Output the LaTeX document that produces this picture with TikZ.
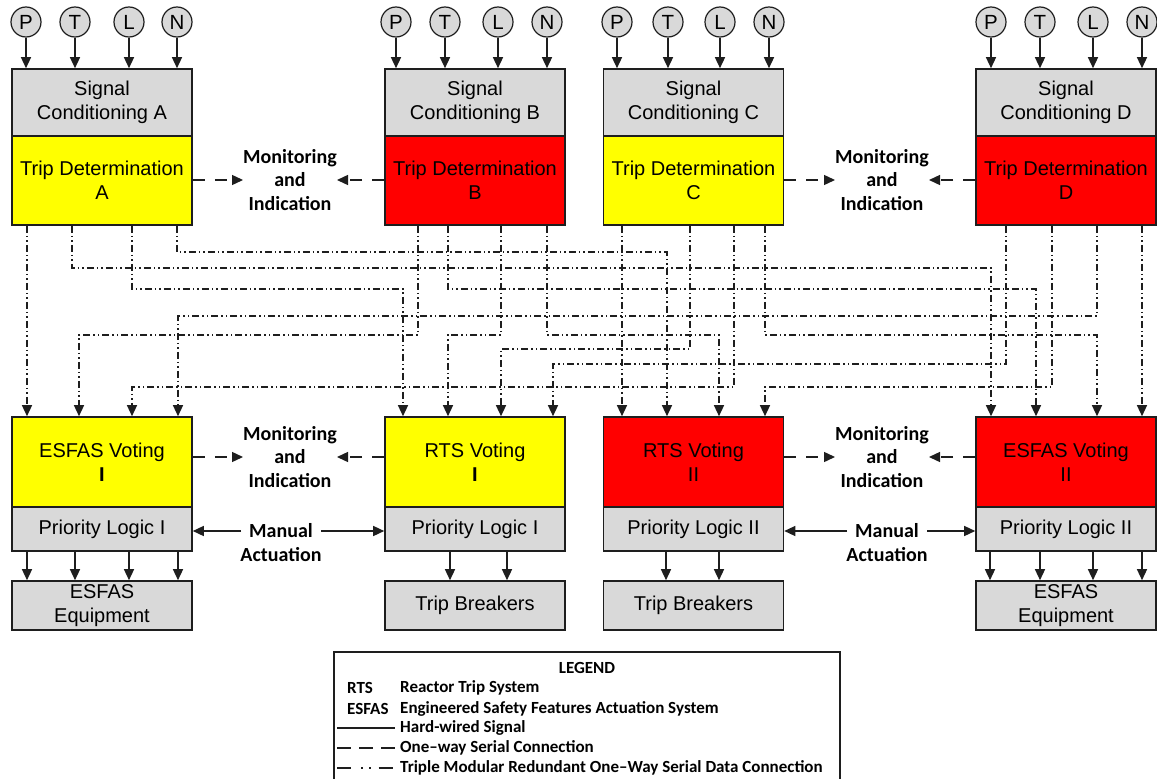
\documentclass[tikz,border=0pt]{standalone}
\usepackage{fontspec}
\setmainfont{Liberation Sans}
\newfontfamily\lblfont{Carlito}
\usetikzlibrary{arrows.meta}

\definecolor{boxgray}{RGB}{217,217,217}
\definecolor{tripyellow}{RGB}{255,255,0}
\definecolor{tripred}{RGB}{255,0,0}
\definecolor{edge}{RGB}{30,30,30}

\begin{document}
\begin{tikzpicture}[x=1pt,y=-1pt,
  blk/.style={draw=edge, line width=1.6pt, minimum width=180pt, inner sep=0pt,
    align=center, font=\fontsize{20}{24}\selectfont},
  circ/.style={circle, draw=edge, fill=boxgray, line width=1.2pt, minimum size=30pt,
    inner sep=0pt, font=\fontsize{20.5}{22}\selectfont},
  arr/.style={line width=1.4pt, draw=edge, -{Triangle[length=11pt,width=10pt]}},
  mon/.style={line width=1.4pt, draw=edge, dash pattern=on 12pt off 10pt,
    -{Triangle[length=11pt,width=10pt]}},
  tmr/.style={line width=1.3pt, draw=edge,
    dash pattern=on 7pt off 3pt on 1.5pt off 3pt on 1.5pt off 3pt,
    -{Triangle[length=11pt,width=10pt]}},
  lbl/.style={inner sep=0pt, align=center,
    font=\lblfont\bfseries\fontsize{20}{23.5}\selectfont},
  manlbl/.style={inner ysep=0pt, inner xsep=8pt,
    font=\lblfont\bfseries\fontsize{20}{23.5}\selectfont},
  legtxt/.style={inner sep=0pt, anchor=west,
    font=\lblfont\bfseries\fontsize{17}{20}\selectfont},
]
\fill[white] (0,0) rectangle (1157,779);
\useasboundingbox (0,0) rectangle (1157,779);

% ---- Divisions: signal conditioning and trip determination ----
\foreach \b/\cx/\col in {A/102/tripyellow, B/475/tripred, C/693.5/tripyellow, D/1066/tripred}{
  \node[blk, fill=boxgray, minimum height=67pt] (sc\b) at (\cx,102.5) {Signal\\Conditioning \b};
  \node[blk, fill=\col, minimum height=89pt] (td\b) at (\cx,180.5) {Trip Determination\\\b};
}

% ---- Sensor inputs ----
\foreach \b/\xa/\xb/\xc/\xd in {A/26/75/129/177, B/396/445/498/547,
                              C/617/668/720/769, D/991/1040/1093/1142}{
  \foreach \i/\x/\t in {1/\xa/P, 2/\xb/T, 3/\xc/L, 4/\xd/N}{
    \node[circ] (c\b\i) at (\x,22) {\t};
    \draw[arr] (c\b\i) -- (c\b\i |- sc\b.north);
  }
}

% ---- Voting, priority logic and actuated equipment ----
\node[blk, fill=tripyellow, minimum height=90pt] (vEI) at (102,462) {ESFAS Voting\\\textbf{I}};
\node[blk, fill=boxgray, minimum height=44pt] (plEI) at (102,529) {Priority Logic I};
\node[blk, fill=boxgray, minimum height=49pt] (eqEI) at (102,605.5) {ESFAS\\Equipment};

\node[blk, fill=tripyellow, minimum height=90pt] (vRI) at (475,462) {RTS Voting\\\textbf{I}};
\node[blk, fill=boxgray, minimum height=44pt] (plRI) at (475,529) {Priority Logic I};
\node[blk, fill=boxgray, minimum height=49pt] (tbRI) at (475,605.5) {Trip Breakers};

\node[blk, fill=tripred, minimum height=90pt] (vRII) at (693.5,462) {RTS Voting\\II};
\node[blk, fill=boxgray, minimum height=44pt] (plRII) at (693.5,529) {Priority Logic II};
\node[blk, fill=boxgray, minimum height=49pt] (tbRII) at (693.5,605.5) {Trip Breakers};

\node[blk, fill=tripred, minimum height=90pt] (vEII) at (1066,462) {ESFAS Voting\\II};
\node[blk, fill=boxgray, minimum height=44pt] (plEII) at (1066,529) {Priority Logic II};
\node[blk, fill=boxgray, minimum height=49pt] (eqEII) at (1066,605.5) {ESFAS\\Equipment};

\foreach \x in {27,75,129,178} \draw[arr] (plEI.south -| \x,0) -- (eqEI.north -| \x,0);
\foreach \x in {450,507} \draw[arr] (plRI.south -| \x,0) -- (tbRI.north -| \x,0);
\foreach \x in {666,719} \draw[arr] (plRII.south -| \x,0) -- (tbRII.north -| \x,0);
\foreach \x in {990,1040,1093,1142} \draw[arr] (plEII.south -| \x,0) -- (eqEII.north -| \x,0);

% ---- Monitoring and indication ----
\node[lbl] (monAB) at (290,180) {Monitoring\\and\\Indication};
\node[lbl] (monCD) at (882,180) {Monitoring\\and\\Indication};
\node[lbl] (monI)  at (290,457) {Monitoring\\and\\Indication};
\node[lbl] (monII) at (882,457) {Monitoring\\and\\Indication};
\draw[mon] (tdA.east |- monAB.center) -- (monAB.west);
\draw[mon] (tdB.west |- monAB.center) -- (monAB.east);
\draw[mon] (tdC.east |- monCD.center) -- (monCD.west);
\draw[mon] (tdD.west |- monCD.center) -- (monCD.east);
\draw[mon] (vEI.east |- monI.center) -- (monI.west);
\draw[mon] (vRI.west |- monI.center) -- (monI.east);
\draw[mon] (vRII.east |- monII.center) -- (monII.west);
\draw[mon] (vEII.west |- monII.center) -- (monII.east);

% ---- Manual actuation ----
\node[manlbl] (manI) at (281,531) {Manual};
\node[manlbl] (actI) at (281,555) {Actuation};
\node[manlbl] (manII) at (887,531) {Manual};
\node[manlbl] (actII) at (887,555) {Actuation};
\draw[arr] (manI.west) -- (plEI.east |- manI.west);
\draw[arr] (manI.east) -- (plRI.west |- manI.east);
\draw[arr] (manII.west) -- (plRII.east |- manII.west);
\draw[arr] (manII.east) -- (plEII.west |- manII.east);

% ---- Triple modular redundant data links ----
\foreach \n/\x in {A1/27, A2/72, A3/132, A4/177}   \coordinate (o\n) at (tdA.south -| \x,0);
\foreach \n/\x in {B1/418, B2/448, B3/501, B4/547}  \coordinate (o\n) at (tdB.south -| \x,0);
\foreach \n/\x in {C1/622, C2/690, C3/734, C4/765}  \coordinate (o\n) at (tdC.south -| \x,0);
\foreach \n/\x in {D1/1006, D2/1052, D3/1097, D4/1142} \coordinate (o\n) at (tdD.south -| \x,0);
\foreach \n/\x in {1/27, 2/79, 3/132, 4/178}       \coordinate (iEI\n) at (vEI.north -| \x,0);
\foreach \n/\x in {1/403, 2/448, 3/501, 4/553}     \coordinate (iRI\n) at (vRI.north -| \x,0);
\foreach \n/\x in {1/622, 2/667, 3/719, 4/765}     \coordinate (iRII\n) at (vRII.north -| \x,0);
\foreach \n/\x in {1/991, 2/1036, 3/1097, 4/1142}  \coordinate (iEII\n) at (vEII.north -| \x,0);
\foreach \n/\y in {1/252, 2/268, 3/289, 4/316, 5/335, 6/349, 7/364, 8/387}
  \coordinate (h\n) at (0,\y);

\draw[tmr] (oA1) -- (iEI1);
\draw[tmr] (oA2) |- (iEII1 |- h2) -- (iEII1);
\draw[tmr] (oA3) |- (iRI1 |- h3) -- (iRI1);
\draw[tmr] (oA4) |- (iRII2 |- h1) -- (iRII2);
\draw[tmr] (oB1) |- (iEI2 |- h5) -- (iEI2);
\draw[tmr] (oB2) |- (iEII2 |- h3) -- (iEII2);
\draw[tmr] (oB3) |- (iRI2 |- h5) -- (iRI2);
\draw[tmr] (oB4) |- (iRII3 |- h5) -- (iRII3);
\draw[tmr] (oC1) -- (iRII1);
\draw[tmr] (oC2) |- (iRI3 |- h6) -- (iRI3);
\draw[tmr] (oC3) |- (iEI3 |- h8) -- (iEI3);
\draw[tmr] (oC4) |- (iEII3 |- h5) -- (iEII3);
\draw[tmr] (oD1) |- (iRI4 |- h7) -- (iRI4);
\draw[tmr] (oD2) |- (iRII4 |- h8) -- (iRII4);
\draw[tmr] (oD3) |- (iEI4 |- h4) -- (iEI4);
\draw[tmr] (oD4) -- (iEII4);

% ---- Legend ----
\draw[draw=edge, line width=1.2pt] (334,782) -- (334,652) -- (840,652) -- (840,782);
\node[legtxt, anchor=center] (legTitle) at (587,668) {LEGEND};
\node[legtxt] (legRTS) at (347,688) {RTS};
\node[legtxt] (legRTSd) at (400,688) {Reactor Trip System};
\node[legtxt] (legES) at (347,709) {ESFAS};
\node[legtxt] (legESd) at (400,709) {Engineered Safety Features Actuation System};
\node[legtxt] (legHW) at (400,728) {Hard-wired Signal};
\node[legtxt] (legOW) at (400,748) {One–way Serial Connection};
\node[legtxt] (legTM) at (400,768) {Triple Modular Redundant One–Way Serial Data Connection};
\draw[draw=edge, line width=1.2pt] (337,728) -- (395,728);
\draw[draw=edge, line width=1.2pt, dash pattern=on 14pt off 8pt] (337,748) -- (395,748);
\draw[draw=edge, line width=1.2pt,
  dash pattern=on 14pt off 10pt on 1.5pt off 6.5pt on 1.5pt off 8pt] (337,768) -- (395,768);
\end{tikzpicture}
\end{document}
